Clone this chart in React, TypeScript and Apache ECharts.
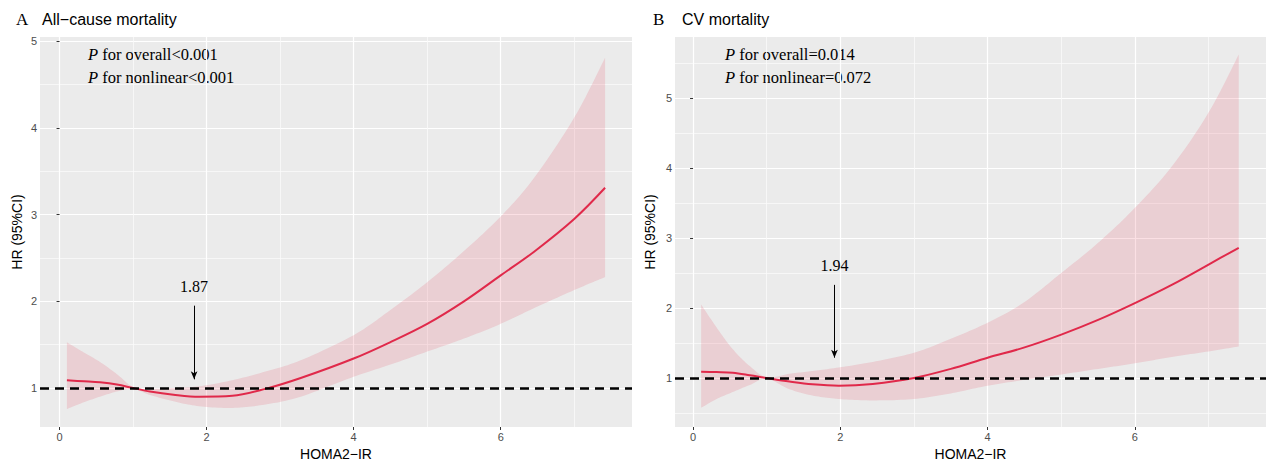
import React, { useEffect, useRef } from "react";
import * as echarts from "echarts";

// Panel A: All-cause mortality
const xA = [0.1, 0.33, 0.55, 0.78, 1.0, 1.23, 1.55, 1.9, 2.35, 2.8, 3.28, 4.0, 4.5, 5.0, 5.5, 6.0, 6.45, 7.0, 7.42];
const hrA = [1.088, 1.077, 1.065, 1.04, 1.0, 0.96, 0.923, 0.9, 0.91, 0.99, 1.115, 1.34, 1.53, 1.74, 2.0, 2.3, 2.57, 2.95, 3.31];
const loA = [0.758, 0.835, 0.9, 0.96, 0.99, 0.92, 0.846, 0.79, 0.77, 0.81, 0.9, 1.13, 1.27, 1.42, 1.57, 1.74, 1.92, 2.13, 2.28];
const hiA = [1.527, 1.41, 1.3, 1.16, 1.01, 0.99, 1.0, 1.02, 1.09, 1.19, 1.32, 1.61, 1.9, 2.22, 2.58, 2.98, 3.42, 4.12, 4.81];

// Panel B: CV mortality
const xB = [0.11, 0.32, 0.54, 0.77, 1.0, 1.31, 1.62, 1.98, 2.44, 3.0, 3.5, 4.0, 4.48, 5.0, 5.5, 6.0, 6.5, 7.0, 7.41];
const hrB = [1.09, 1.085, 1.075, 1.04, 1.0, 0.95, 0.91, 0.89, 0.915, 1.0, 1.13, 1.29, 1.43, 1.62, 1.83, 2.07, 2.33, 2.62, 2.86];
const loB = [0.575, 0.7, 0.8, 0.9, 0.99, 0.84, 0.75, 0.7, 0.68, 0.7, 0.78, 0.89, 0.97, 1.05, 1.13, 1.21, 1.3, 1.38, 1.45];
const hiB = [2.05, 1.72, 1.41, 1.17, 1.01, 1.06, 1.1, 1.15, 1.23, 1.36, 1.56, 1.79, 2.07, 2.5, 2.93, 3.43, 4.02, 4.79, 5.62];

const xTicks = [0, 2, 4, 6];
const yTicks = [1, 2, 3, 4, 5];
const refHR = 1;

const panelLetters = ["A", "B"];
const panelTitles = ["All\u2212cause mortality", "CV mortality"];
const pOverall = ["P for overall<0.001", "P for overall=0.014"];
const pNonlinear = ["P for nonlinear<0.001", "P for nonlinear=0.072"];
const cutX = [1.83, 1.92];
const cutLabels = ["1.87", "1.94"];
const arrowTop = [1.95, 2.33];
const arrowBottom = [1.1, 1.29];
const labelY = [2.17, 2.6];

const xTitle = "HOMA2\u2212IR";
const yTitle = "HR (95%CI)";

const RED = "#E0294A";
const BAND = "rgba(228,40,72,0.145)";
const SANS = "'Liberation Sans', Arial, sans-serif";
const SERIF = "'Liberation Serif', 'Times New Roman', serif";

function xAxisDef(idx: number, min: number, max: number) {
  return {
    type: "value",
    gridIndex: idx,
    min,
    max,
    splitNumber: 4,
    name: xTitle,
    nameLocation: "middle",
    nameGap: 19,
    nameTextStyle: { color: "#000", fontSize: 14, fontFamily: SANS },
    axisLine: { show: false },
    axisTick: { show: true, length: 3, customValues: xTicks, lineStyle: { color: "#333", width: 1 } },
    axisLabel: { show: true, customValues: xTicks, margin: 4, color: "#4D4D4D", fontSize: 11, fontFamily: SANS },
    splitLine: { show: true, lineStyle: { color: "#FFFFFF", width: 1.2 } },
    minorTick: { show: false, splitNumber: 2 },
    minorSplitLine: { show: true, lineStyle: { color: "#FAFAFA", width: 0.8 } },
  };
}

function yAxisDef(idx: number, min: number, max: number, split: number, gap: number) {
  return {
    type: "value",
    gridIndex: idx,
    min,
    max,
    splitNumber: split,
    name: yTitle,
    nameLocation: "middle",
    nameGap: gap,
    nameTextStyle: { color: "#000", fontSize: 14, fontFamily: SANS },
    axisLine: { show: false },
    axisTick: { show: true, length: 3, customValues: yTicks, lineStyle: { color: "#333", width: 1 } },
    axisLabel: { show: true, customValues: yTicks, margin: 3, color: "#4D4D4D", fontSize: 11, fontFamily: SANS },
    splitLine: { show: true, lineStyle: { color: "#FFFFFF", width: 1.2 } },
    minorTick: { show: false, splitNumber: 2 },
    minorSplitLine: { show: true, lineStyle: { color: "#FAFAFA", width: 0.8 } },
  };
}

// Catmull-Rom smoothing of screen points (visual smoothing only)
function smoothPts(p: number[][]) {
  const out: number[][] = [];
  const n = p.length;
  const steps = 12;
  for (let i = 0; i < n - 1; i++) {
    const p0 = p[Math.max(0, i - 1)];
    const p1 = p[i];
    const p2 = p[i + 1];
    const p3 = p[Math.min(n - 1, i + 2)];
    for (let s = 0; s < steps; s++) {
      const t = s / steps;
      const t2 = t * t;
      const t3 = t2 * t;
      const f = (a: number, b: number, c: number, d: number) =>
        0.5 * (2 * b + (-a + c) * t + (2 * a - 5 * b + 4 * c - d) * t2 + (-a + 3 * b - 3 * c + d) * t3);
      out.push([f(p0[0], p1[0], p2[0], p3[0]), f(p0[1], p1[1], p2[1], p3[1])]);
    }
  }
  out.push(p[n - 1]);
  return out;
}

function panelSeries(idx: number, xs: number[], hr: number[], lo: number[], hi: number[]) {
  return [
    {
      type: "custom",
      xAxisIndex: idx,
      yAxisIndex: idx,
      data: xs.map((x, i) => [x, lo[i], hi[i]]),
      encode: { x: 0, y: [1, 2] },
      clip: true,
      silent: true,
      z: 1,
      renderItem: (params: any, api: any) => {
        if (params.dataIndex !== 0) return null;
        const up = xs.map((x, i) => api.coord([x, hi[i]]));
        const dn = xs.map((x, i) => api.coord([x, lo[i]]));
        const pts = [...smoothPts(up), ...smoothPts(dn).reverse()];
        return { type: "polygon", shape: { points: pts }, style: { fill: BAND } };
      },
      markLine: {
        silent: true,
        animation: false,
        symbol: ["none", "arrow"],
        symbolSize: [5, 8],
        label: { show: false },
        lineStyle: { type: "solid", color: "#000", width: 1 },
        data: [[{ coord: [cutX[idx], arrowTop[idx]] }, { coord: [cutX[idx], arrowBottom[idx]] }]],
      },
      markPoint: {
        silent: true,
        animation: false,
        symbol: "circle",
        symbolSize: 1,
        itemStyle: { color: "rgba(0,0,0,0)" },
        label: {
          show: true,
          position: "inside",
          formatter: cutLabels[idx],
          color: "#000",
          fontSize: 16,
          fontFamily: SERIF,
        },
        data: [{ coord: [cutX[idx], labelY[idx]] }],
      },
    },
    {
      type: "line",
      xAxisIndex: idx,
      yAxisIndex: idx,
      data: xs.map((x, i) => [x, hr[i]]),
      symbol: "none",
      smooth: 0.35,
      lineStyle: { color: RED, width: 2 },
      silent: true,
      z: 3,
      markLine: {
        silent: true,
        animation: false,
        symbol: ["none", "none"],
        label: { show: false },
        lineStyle: { type: [9, 6], color: "#000", width: 2.5 },
        data: [{ yAxis: refHR }],
      },
    },
  ];
}

export default function App() {
  const ref = useRef<HTMLDivElement>(null);
  useEffect(() => {
    if (!ref.current) return;
    const chart = echarts.init(ref.current, undefined, { renderer: "svg" });
    const richP = {
      i: { fontStyle: "italic", fontFamily: SERIF, fontSize: 16.5, color: "#000" },
      n: { fontFamily: SERIF, fontSize: 16.5, color: "#000" },
    };
    const pText = (s: string) => `{i|P}{n|${s.slice(1)}}`;
    const textLeft = [88, 725];
    const letterLeft = [16, 653];
    const titleLeft = [42, 682];
    const graphics: any[] = [];
    for (let i = 0; i < 2; i++) {
      graphics.push({
        type: "text", left: letterLeft[i], top: 11, silent: true,
        style: { text: panelLetters[i], fill: "#000", font: `17px ${SERIF}` },
      });
      graphics.push({
        type: "text", left: titleLeft[i], top: 11, silent: true,
        style: { text: panelTitles[i], fill: "#000", font: `16px ${SANS}` },
      });
      graphics.push({
        type: "text", left: textLeft[i], top: 46, silent: true,
        style: { text: pText(pOverall[i]), rich: richP, font: `16.5px ${SERIF}` },
      });
      graphics.push({
        type: "text", left: textLeft[i], top: 69, silent: true,
        style: { text: pText(pNonlinear[i]), rich: richP, font: `16.5px ${SERIF}` },
      });
    }
    chart.setOption({
      animation: false,
      backgroundColor: "#FFFFFF",
      grid: [
        { left: 40, top: 37, width: 592, height: 390, show: true, backgroundColor: "#EBEBEB", borderWidth: 0, containLabel: false, outerBoundsMode: "none" },
        { left: 675, top: 37, width: 591, height: 390, show: true, backgroundColor: "#EBEBEB", borderWidth: 0, containLabel: false, outerBoundsMode: "none" },
      ],
      xAxis: [xAxisDef(0, -0.266, 7.786), xAxisDef(1, -0.245, 7.78)],
      yAxis: [yAxisDef(0, 0.55, 5.05, 4, 16), yAxisDef(1, 0.3, 5.87, 5, 18)],
      series: [...panelSeries(0, xA, hrA, loA, hiA), ...panelSeries(1, xB, hrB, loB, hiB)],
      graphic: graphics,
    });
    return () => chart.dispose();
  }, []);
  return (
    <div
      ref={ref}
      style={{ position: "fixed", left: 0, top: 0, width: 1266, height: 463, background: "#fff" }}
    />
  );
}
